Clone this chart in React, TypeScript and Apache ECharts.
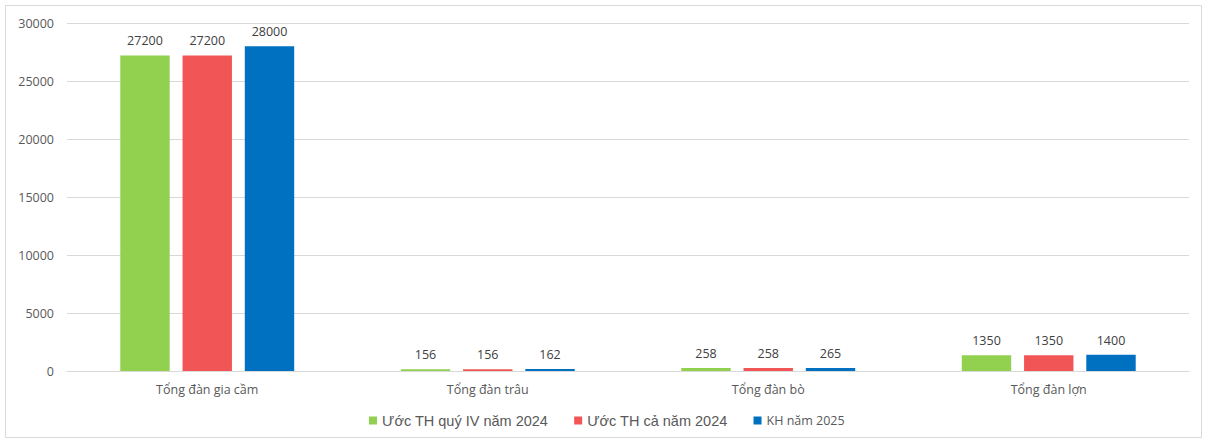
import React, { useEffect, useRef } from "react";
import * as echarts from "echarts";

const categories = ["Tổng đàn gia cầm", "Tổng đàn trâu", "Tổng đàn bò", "Tổng đàn lợn"];
const seriesNames = ["Ước TH quý IV năm 2024", "Ước TH cả năm 2024", "KH năm 2025"];
const q4_2024 = [27200, 156, 258, 1350];
const year2024 = [27200, 156, 258, 1350];
const plan2025 = [28000, 162, 265, 1400];
const colors = ["#92D050", "#F25555", "#0070C0"];

export default function App() {
  const ref = useRef<HTMLDivElement>(null);
  useEffect(() => {
    const chart = echarts.init(ref.current!, null, { renderer: "svg" });
    const datas = [q4_2024, year2024, plan2025];
    chart.setOption({
      animation: false,
      backgroundColor: "#ffffff",
      graphic: [
        {
          type: "rect",
          shape: { x: 5.5, y: 5.5, width: 1196, height: 432 },
          style: { fill: "none", stroke: "#d9d9d9", lineWidth: 1 },
          silent: true,
        },
      ],
      grid: { left: 67, right: 18, top: 23, bottom: 71 },
      legend: {
        bottom: 9,
        left: 364,
        itemWidth: 8,
        itemHeight: 8,
        itemGap: 26,
        icon: "rect",
        textStyle: { color: "#595959", fontFamily: "Liberation Sans", fontSize: 14.5 },
        data: [
          { name: seriesNames[0] },
          { name: seriesNames[1] },
          { name: seriesNames[2], textStyle: { fontFamily: "Open Sans", fontSize: 12.5 } },
        ],
      },
      xAxis: {
        type: "category",
        data: categories,
        axisLine: { lineStyle: { color: "#d9d9d9" } },
        axisTick: { show: false },
        axisLabel: { color: "#595959", fontFamily: "Open Sans", fontSize: 12.5, margin: 12 },
      },
      yAxis: {
        type: "value",
        min: 0,
        max: 30000,
        interval: 5000,
        axisLine: { show: false },
        axisTick: { show: false },
        splitLine: { lineStyle: { color: "#d9d9d9" } },
        axisLabel: {
          color: "#595959",
          fontFamily: "Open Sans",
          fontSize: 12.5,
          margin: 13,
          formatter: (v: number) => String(v),
        },
      },
      series: seriesNames.map((name, i) => ({
        name,
        type: "bar",
        data: datas[i],
        barGap: "26%",
        barCategoryGap: "38%",
        itemStyle: { color: colors[i] },
        label: {
          show: true,
          position: "top",
          distance: 8,
          color: "#404040",
          fontFamily: "Open Sans",
          fontSize: 12.5,
        },
      })),
    });
    return () => chart.dispose();
  }, []);
  return (
    <div
      ref={ref}
      style={{ position: "fixed", left: 0, top: 0, width: 1207, height: 442 }}
    />
  );
}
